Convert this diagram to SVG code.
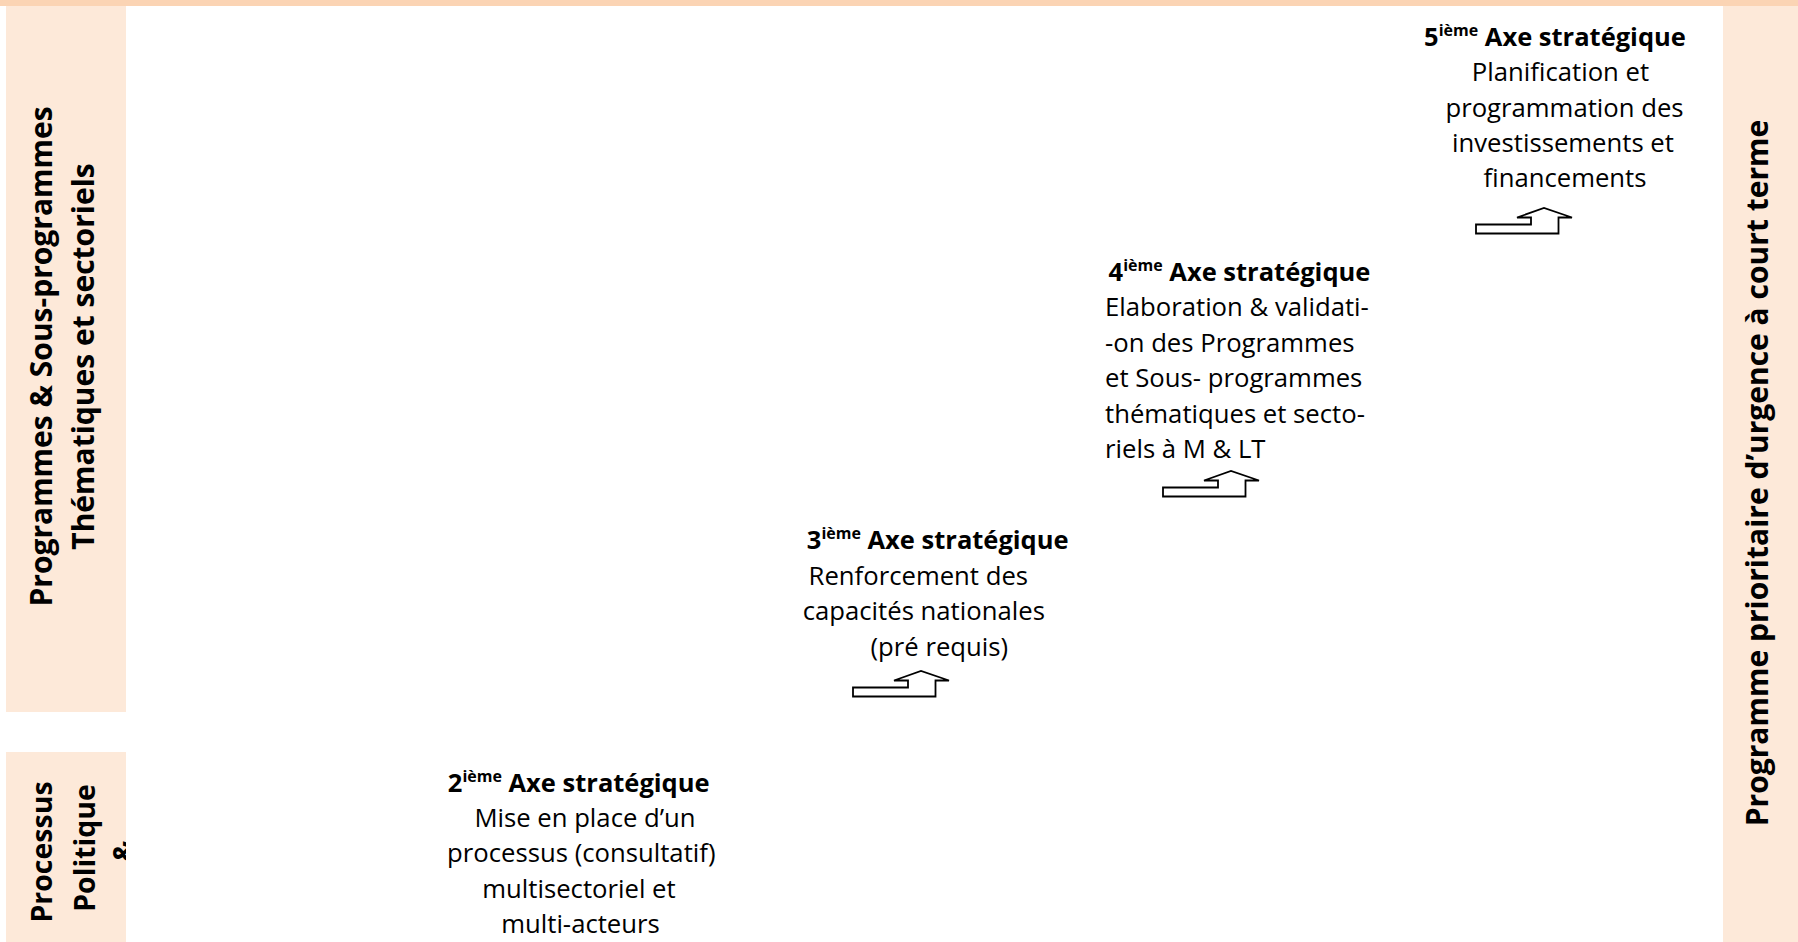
<svg xmlns="http://www.w3.org/2000/svg" xmlns:xlink="http://www.w3.org/1999/xlink" width="1798" height="942" viewBox="0 0 1798 942">
  <style>
    .band { fill: #FBD4B4; }
    .panel { fill: #FDE9D9; }
    .side { font-family: "Open Sans", "Noto Sans", "DejaVu Sans", sans-serif; font-weight: bold; font-size: 30px; fill: #000; }
    .side-sm { font-size: 28.5px; }
    .hdr { font-family: "Open Sans", "Noto Sans", "DejaVu Sans", sans-serif; font-weight: bold; font-size: 25.5px; fill: #000; }
    .sup { font-size: 16px; }
    .body { font-family: "Open Sans", "Noto Sans", "DejaVu Sans", sans-serif; font-size: 25.7px; fill: #000; }
    .arrow { fill: #FFFFFF; stroke: #000; stroke-width: 1.8; stroke-linejoin: miter; }
  </style>
  <defs>
    <path id="steparrow" d="M0,16.5 L55,16.5 L55,9.5 L41,9.5 L68,0 L96,9.5 L82.5,9.5 L82.5,25.5 L0,25.5 Z"/>
    <clipPath id="clipLower">
      <rect x="6" y="752" width="120" height="190"/>
    </clipPath>
  </defs>

  <rect width="1798" height="942" fill="#FFFFFF"/>

  <g id="top-band">
    <rect class="band" x="0" y="0" width="1798" height="6"/>
  </g>

  <g id="panel-programmes">
    <rect class="panel" x="6" y="6" width="120" height="706"/>
    <text class="side" text-anchor="middle" transform="translate(52,356.5) rotate(-90)">Programmes &amp; Sous-programmes</text>
    <text class="side" text-anchor="middle" transform="translate(94,356.5) rotate(-90)">Thématiques et sectoriels</text>
  </g>

  <g id="panel-processus">
    <rect class="panel" x="6" y="752" width="120" height="190"/>
    <g clip-path="url(#clipLower)">
      <text class="side side-sm" text-anchor="middle" transform="translate(52,852) rotate(-90)">Processus</text>
      <text class="side side-sm" text-anchor="middle" transform="translate(95,848) rotate(-90)">Politique</text>
      <text class="side side-sm" text-anchor="middle" transform="translate(134,851) rotate(-90)">&amp;</text>
    </g>
  </g>

  <g id="panel-urgence">
    <rect class="panel" x="1723" y="6" width="75" height="936"/>
    <text class="side" text-anchor="middle" transform="translate(1768,473) rotate(-90)">Programme prioritaire d’urgence à court terme</text>
  </g>

  <g id="axe2">
    <text class="hdr" x="578.7" y="791.7" text-anchor="middle">2<tspan class="sup" dy="-10">ième</tspan><tspan dy="10"> Axe stratégique</tspan></text>
    <text class="body" x="585" y="827" text-anchor="middle">Mise en place d’un</text>
    <text class="body" x="581.3" y="862.3" text-anchor="middle">processus (consultatif)</text>
    <text class="body" x="579" y="897.6" text-anchor="middle">multisectoriel et</text>
    <text class="body" x="580.5" y="933" text-anchor="middle">multi-acteurs</text>
  </g>

  <g id="axe3">
    <text class="hdr" x="937.7" y="549.3" text-anchor="middle">3<tspan class="sup" dy="-10">ième</tspan><tspan dy="10"> Axe stratégique</tspan></text>
    <text class="body" x="918.3" y="585" text-anchor="middle">Renforcement des</text>
    <text class="body" x="923.8" y="620.3" text-anchor="middle">capacités nationales</text>
    <text class="body" x="939.3" y="655.6" text-anchor="middle">(pré requis)</text>
  </g>

  <g id="axe4">
    <text class="hdr" x="1239.5" y="280.5" text-anchor="middle">4<tspan class="sup" dy="-10">ième</tspan><tspan dy="10"> Axe stratégique</tspan></text>
    <text class="body" x="1105" y="316">Elaboration &amp; validati-</text>
    <text class="body" x="1105" y="351.5">-on des Programmes</text>
    <text class="body" x="1105" y="387">et Sous- programmes</text>
    <text class="body" x="1105" y="422.5">thématiques et secto-</text>
    <text class="body" x="1105" y="458">riels à M &amp; LT</text>
  </g>

  <g id="axe5">
    <text class="hdr" x="1555" y="45.5" text-anchor="middle">5<tspan class="sup" dy="-10">ième</tspan><tspan dy="10"> Axe stratégique</tspan></text>
    <text class="body" x="1560.5" y="81" text-anchor="middle">Planification et</text>
    <text class="body" x="1564.5" y="116.5" text-anchor="middle">programmation des</text>
    <text class="body" x="1563" y="152" text-anchor="middle">investissements et</text>
    <text class="body" x="1565" y="187" text-anchor="middle">financements</text>
  </g>

  <g id="connectors">
    <use xlink:href="#steparrow" class="arrow" x="853" y="671"/>
    <use xlink:href="#steparrow" class="arrow" x="1163" y="471"/>
    <use xlink:href="#steparrow" class="arrow" x="1476" y="208"/>
  </g>
</svg>
